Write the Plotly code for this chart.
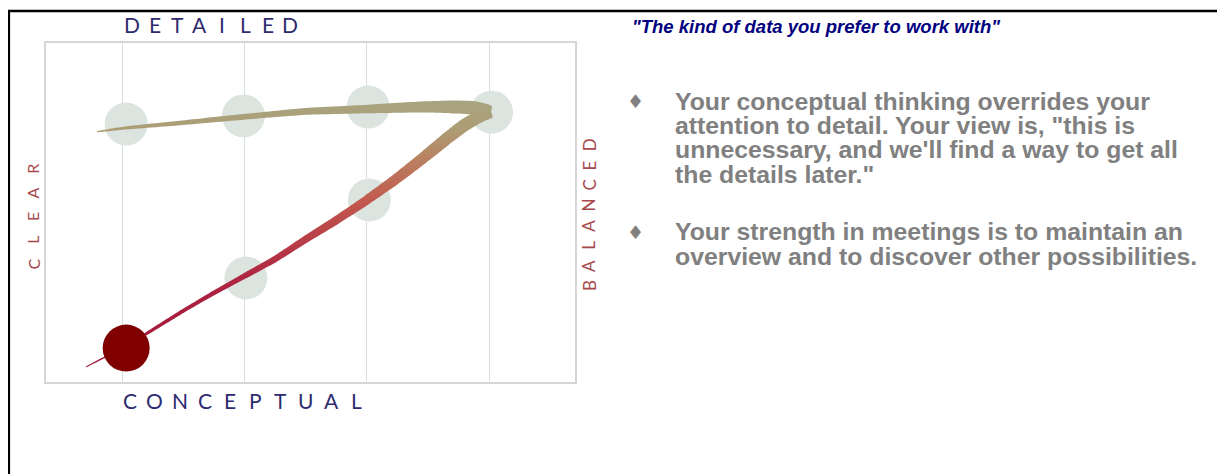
import numpy as np
import plotly.graph_objects as go

# screenshot size and the page's default body margin
SW, SH = 1225, 474
OFF = 8
W, H = SW - OFF, SH - OFF

# ---------------- data ----------------
grid_x = [1, 2, 3, 4]
bubble_x = [1.03, 1.99, 3.01, 4.02, 3.02, 2.01]
bubble_y = [7.61, 7.85, 8.11, 7.96, 5.37, 3.07]
result_x = [1.03]
result_y = [1.00]
rise_x = [0.70, 0.86, 1.03, 1.23, 1.47, 1.72, 2.00, 2.25, 2.49, 2.74, 3.00, 3.23, 3.44, 3.64, 3.80, 3.93, 4.01]
rise_y = [0.44, 0.74, 1.06, 1.50, 2.04, 2.57, 3.13, 3.63, 4.19, 4.75, 5.37, 5.96, 6.55, 7.14, 7.58, 7.85, 7.97]
return_x = [4.01, 3.89, 3.72, 3.44, 3.00, 2.45, 1.99, 1.47, 1.02, 0.79]
return_y = [7.97, 8.08, 8.11, 8.11, 8.05, 7.97, 7.82, 7.64, 7.49, 7.38]

label_top = "DETAILED"
label_bottom = "CONCEPTUAL"
label_left = "CLEAR"
label_right = "BALANCED"
title_text = '"The kind of data you prefer to work with"'
bullet_lines = [
    ["Your conceptual thinking overrides your",
     'attention to detail. Your view is, "this is',
     "unnecessary, and we'll find a way to get all",
     'the details later."'],
    ["Your strength in meetings is to maintain an",
     "overview and to discover other possibilities."],
]

# ---------------- styles ----------------
rise_w = [0.6, 1.5, 2.5, 3.2, 3.8, 4.5, 5.5, 6.3, 7.2, 8.2, 9.2, 10.2, 11.2, 12.2, 12.8, 12.8, 12]
return_w = [12, 13.5, 13, 11, 8.5, 6.8, 5.6, 4.4, 3.0, 0.6]
swoosh_scale = [[0.0, '#a0153a'], [0.346, '#ae2642'], [0.64, '#c25a4e'],
                [0.795, '#b98262'], [0.897, '#ad9c74'], [1.0, '#a8a47f']]

X0, X1 = 0.374, 4.703
Y0, Y1 = 0.0, 10.0
PL, PR, PT, PB = 46, 575, 43, 382     # plot box in screenshot pixels
sx = (PR - PL) / (X1 - X0)
sy = (PB - PT) / (Y1 - Y0)


def ribbon(xs, ys, ws):
    xs = np.asarray(xs, float); ys = np.asarray(ys, float); ws = np.asarray(ws, float)
    px = (xs - X0) * sx
    py = (ys - Y0) * sy
    tx = np.gradient(px); ty = np.gradient(py)
    n = np.hypot(tx, ty)
    nx, ny = -ty / n, tx / n
    lx, ly = px + nx * ws / 2, py + ny * ws / 2
    rx, ry = px - nx * ws / 2, py - ny * ws / 2
    polx = np.concatenate([lx, rx[::-1], lx[:1]])
    poly = np.concatenate([ly, ry[::-1], ly[:1]])
    return polx / sx + X0, poly / sy + Y0


fig = go.Figure()

fig.add_trace(go.Scatter(x=bubble_x, y=bubble_y, mode='markers',
                         marker=dict(size=43, color='#dce4df', line=dict(width=0)),
                         hoverinfo='skip'))

for xs, ys, ws in [(rise_x, rise_y, rise_w), (return_x, return_y, return_w)]:
    rx, ry = ribbon(xs, ys, ws)
    fig.add_trace(go.Scatter(x=rx, y=ry, mode='lines', fill='toself',
                             line=dict(width=0, shape='spline', smoothing=0.5),
                             fillgradient=dict(type='vertical', colorscale=swoosh_scale,
                                               start=0.4, stop=8.2),
                             hoverinfo='skip'))

fig.add_trace(go.Scatter(x=result_x, y=result_y, mode='markers',
                         marker=dict(size=47, color='#800000', line=dict(width=0)),
                         hoverinfo='skip'))


def fx(p):
    return (p - OFF) / W


def fy(p):
    return 1 - (p - OFF) / H


ann = []


def spaced(text, x0, y0, dx, dy, size, color, angle=0, family='Lato'):
    for i, ch in enumerate(text):
        ann.append(dict(text=ch, x=fx(x0 + i * dx), y=fy(y0 + i * dy), xref='paper', yref='paper',
                        showarrow=False, xanchor='center', yanchor='middle', textangle=angle,
                        font=dict(family=family, size=size, color=color)))


spaced(label_top, 132, 24, 22.6, 0, 21, '#2e2b70')
spaced(label_bottom, 129.5, 400, 25.2, 0, 21, '#2e2b70')
spaced(label_left, 32.5, 264, 0, -23.7, 16, '#a8484c', angle=-90)
spaced(label_right, 589, 286, 0, -20.1, 17, '#a8484c', angle=-90)

ann.append(dict(text=title_text, x=fx(630), y=fy(26), xref='paper', yref='paper', showarrow=False,
                xanchor='left', yanchor='middle',
                font=dict(family='Liberation Sans', size=18.5, color='#000080', weight='bold', style='italic')))

line_y = [[101, 125, 150, 174], [232, 256]]
for lines, ys in zip(bullet_lines, line_y):
    ann.append(dict(text='\u2666', x=fx(635), y=fy(ys[0]), xref='paper', yref='paper', showarrow=False,
                    xanchor='center', yanchor='middle',
                    font=dict(family='DejaVu Sans', size=19, color='#808080')))
    for t, yv in zip(lines, ys):
        ann.append(dict(text=t, x=fx(673), y=fy(yv), xref='paper', yref='paper', showarrow=False,
                        xanchor='left', yanchor='middle',
                        font=dict(family='Liberation Sans', size=24.8, color='#808080', weight='bold')))

shapes = [
    dict(type='line', xref='paper', yref='paper', x0=fx(8), x1=1.0, y0=fy(11), y1=fy(11),
         line=dict(color='black', width=2.5)),
    dict(type='line', xref='paper', yref='paper', x0=fx(9), x1=fx(9), y0=fy(10), y1=0,
         line=dict(color='black', width=2.2)),
]

fig.update_layout(
    width=W, height=H, margin=dict(l=0, r=0, t=0, b=0),
    paper_bgcolor='white', plot_bgcolor='white', showlegend=False,
    xaxis=dict(domain=[(PL - OFF) / W, (PR - OFF) / W], range=[X0, X1], tickvals=grid_x,
               showticklabels=False, ticks='', showgrid=True, gridcolor='#d8dde0', gridwidth=1,
               zeroline=False, showline=True, mirror=True, linecolor='#d6d6d6', linewidth=1.5,
               fixedrange=True),
    yaxis=dict(domain=[1 - (PB - OFF) / H, 1 - (PT - OFF) / H], range=[Y0, Y1], showticklabels=False,
               ticks='', showgrid=False, zeroline=False, showline=True, mirror=True,
               linecolor='#d6d6d6', linewidth=1.5, fixedrange=True),
    annotations=ann, shapes=shapes,
)

fig.write_html("out.html")
